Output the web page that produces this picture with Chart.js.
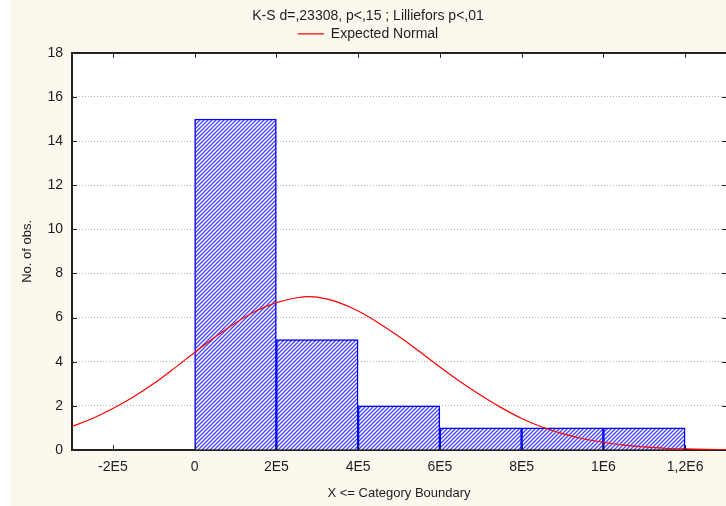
<!DOCTYPE html>
<html>
<head>
<meta charset="utf-8">
<script src="https://cdn.jsdelivr.net/npm/chart.js@4.4.1/dist/chart.umd.min.js"></script>
<style>
  body { margin: 0; background: #fff; }
</style>
</head>
<body>
<canvas id="histChart" width="726" height="506"></canvas>
<script>
// histogram bins (centres of 2E5-wide classes) and counts
const binCenters = [1e5, 3e5, 5e5, 7e5, 9e5, 1.1e6];
const counts = [15, 5, 2, 1, 1, 1];

// expected normal curve
const normalX = [-3e5, -2.5e5, -2e5, -1.5e5, -1e5, -0.5e5, 0, 0.5e5, 1e5, 1.5e5, 2e5, 2.5e5, 2.8e5, 3e5,
    3.5e5, 4e5, 4.5e5, 5e5, 5.5e5, 6e5, 6.5e5, 7e5, 7.5e5, 8e5, 8.5e5, 9e5, 9.5e5, 1e6, 1.05e6, 1.1e6,
    1.15e6, 1.2e6, 1.25e6, 1.3e6];
const normalY = [1.07, 1.43, 1.88, 2.40, 3.01, 3.70, 4.42, 5.12, 5.76, 6.30, 6.68, 6.90, 6.95, 6.93,
    6.70, 6.30, 5.76, 5.14, 4.46, 3.76, 3.09, 2.48, 1.92, 1.43, 1.04, 0.74, 0.51, 0.35, 0.22, 0.14,
    0.08, 0.05, 0.03, 0.015];

// x axis ticks
const xTickValues = [-2e5, 0, 2e5, 4e5, 6e5, 8e5, 1e6, 1.2e6];
const xTickLabels = ['-2E5', '0', '2E5', '4E5', '6E5', '8E5', '1E6', '1,2E6'];

const textColor = '#1e1e1e';
Chart.defaults.font.family = '"Liberation Sans", Arial, sans-serif';
Chart.defaults.color = textColor;

// 4px diagonal hatch
function hatch() {
    const c = document.createElement('canvas');
    c.width = 4;
    c.height = 4;
    const g = c.getContext('2d');
    g.fillStyle = '#fff';
    g.fillRect(0, 0, 4, 4);
    g.strokeStyle = '#4646ff';
    g.lineWidth = 1.3;
    g.beginPath();
    g.moveTo(0, 4); g.lineTo(4, 0);
    g.moveTo(-1, 1); g.lineTo(1, -1);
    g.moveTo(3, 5); g.lineTo(5, 3);
    g.stroke();
    return g.createPattern(c, 'repeat');
}

const background = {
    id: 'background',
    beforeDraw(chart) {
        const { ctx, chartArea: a } = chart;
        ctx.save();
        ctx.fillStyle = '#fdf8ee';
        ctx.fillRect(0, 0, chart.width, chart.height);
        ctx.fillStyle = '#fff';
        ctx.fillRect(0, 0, 10, chart.height);
        ctx.fillRect(a.left, a.top, a.right - a.left, a.bottom - a.top);
        ctx.restore();
    }
};

// short inward tick marks on all four sides
const innerTicks = {
    id: 'innerTicks',
    afterDraw(chart) {
        const { ctx, chartArea: a, scales: { x, y } } = chart;
        ctx.save();
        ctx.strokeStyle = '#222';
        ctx.lineWidth = 1;
        ctx.beginPath();
        x.ticks.forEach(t => {
            const px = Math.round(x.getPixelForValue(t.value)) + 0.5;
            ctx.moveTo(px, a.bottom); ctx.lineTo(px, a.bottom - 5);
            ctx.moveTo(px, a.top); ctx.lineTo(px, a.top + 5);
        });
        y.ticks.forEach(t => {
            const py = Math.round(y.getPixelForValue(t.value)) + 0.5;
            ctx.moveTo(a.left, py); ctx.lineTo(a.left + 5, py);
            ctx.moveTo(a.right, py); ctx.lineTo(a.right - 4, py);
        });
        ctx.stroke();
        ctx.restore();
    }
};

new Chart(document.getElementById('histChart'), {
    type: 'bar',
    data: {
        datasets: [{
            type: 'bar',
            label: 'No. of obs.',
            data: binCenters.map((c, i) => ({ x: c, y: counts[i] })),
            xAxisID: 'x',
            backgroundColor: hatch(),
            borderColor: '#0000ff',
            borderWidth: 1.5,
            barPercentage: 1,
            categoryPercentage: 1,
            order: 2
        }, {
            type: 'line',
            label: 'Expected Normal',
            data: normalX.map((v, i) => ({ x: v, y: normalY[i] })),
            xAxisID: 'x',
            borderColor: '#ff0000',
            borderWidth: 1.2,
            pointRadius: 0,
            cubicInterpolationMode: 'monotone',
            order: 1
        }]
    },
    options: {
        responsive: false,
        animation: false,
        devicePixelRatio: 1,
        layout: { padding: { left: 10, right: 0, top: 0, bottom: 0 } },
        plugins: {
            title: {
                display: true,
                text: 'K-S d=,23308, p<,15 ; Lilliefors p<,01',
                color: textColor,
                font: { size: 14, weight: 'normal' },
                padding: { top: 8, bottom: 0 }
            },
            legend: {
                labels: {
                    filter: item => item.datasetIndex === 1,
                    usePointStyle: true,
                    pointStyle: 'line',
                    pointStyleWidth: 26,
                    color: textColor,
                    font: { size: 14 },
                    padding: 2
                }
            },
            tooltip: { enabled: false }
        },
        scales: {
            x: {
                type: 'linear',
                position: 'bottom',
                offset: false,
                min: -3e5,
                max: 1.3e6,
                afterBuildTicks: s => { s.ticks = xTickValues.map(v => ({ value: v })); },
                ticks: {
                    callback: v => xTickLabels[xTickValues.indexOf(v)],
                    font: { size: 14 },
                    color: textColor,
                    padding: 9,
                    maxRotation: 0
                },
                grid: { display: false, drawTicks: false, offset: false },
                border: { color: '#222', width: 2 },
                title: {
                    display: true,
                    text: 'X <= Category Boundary',
                    font: { size: 13 },
                    color: textColor,
                    padding: { top: 0, bottom: 5 }
                },
                afterFit: s => { s.height = 56; }
            },
            x2: {
                type: 'linear',
                position: 'top',
                offset: false,
                min: -3e5,
                max: 1.3e6,
                ticks: { display: false },
                grid: { display: false, drawTicks: false },
                border: { display: true, color: '#222', width: 2 },
                afterFit: s => { s.height = 2; }
            },
            y: {
                min: 0,
                max: 18,
                ticks: {
                    stepSize: 2,
                    font: { size: 14 },
                    color: textColor,
                    padding: 9
                },
                grid: { color: '#b0b0b0', lineWidth: 1, drawTicks: false },
                border: { color: '#222', width: 2, dash: [1, 2] },
                title: {
                    display: true,
                    text: 'No. of obs.',
                    font: { size: 13 },
                    color: textColor,
                    padding: { top: 10, bottom: 0 }
                },
                afterFit: s => { s.width = 62; }
            }
        }
    },
    plugins: [background, innerTicks]
});
</script>
</body>
</html>
